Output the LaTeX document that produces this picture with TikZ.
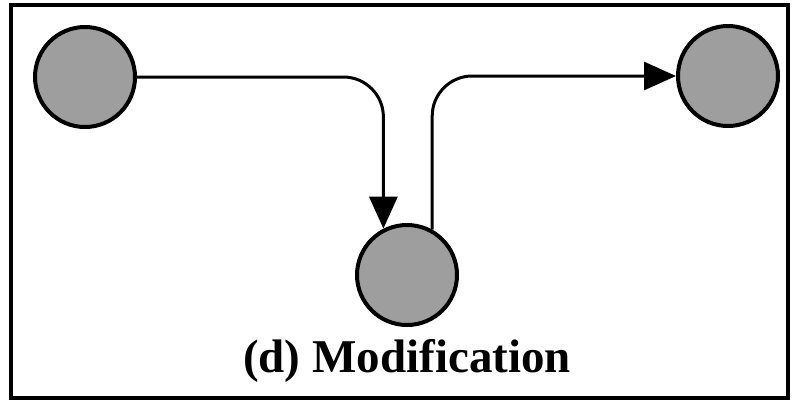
\documentclass[tikz,border=0pt]{standalone}
\usepackage{fontspec}
\setmainfont{Liberation Serif}
\usetikzlibrary{arrows.meta}
\begin{document}
\begin{tikzpicture}[x=1pt,y=-1pt,
  ball/.style={circle,draw=black,line width=4pt,fill=black!38,inner sep=0pt,minimum size=100pt},
  flow/.style={line width=3pt,rounded corners=40pt,-{Triangle[length=32pt,width=28pt]}}]
\useasboundingbox (0,0) rectangle (794,405);
\draw[line width=4pt] (11,5) rectangle (788,398);
\node[ball] (a) at (85,77) {};
\node[ball] (c) at (728,76) {};
\node[ball] (b) at (407,275) {};
\draw[flow] (a.east) -| (b.117);
\draw[flow] (b.61) |- (c.west);
\node[anchor=base,font=\bfseries\fontsize{47}{52}\selectfont,inner sep=0pt] (t) at (407,372) {(d) Modification};
\end{tikzpicture}
\end{document}
